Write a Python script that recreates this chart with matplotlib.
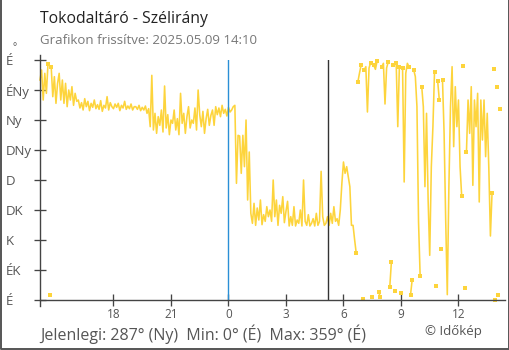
import numpy as np
import matplotlib.pyplot as plt

plt.rcParams['font.family'] = ['Open Sans', 'DejaVu Sans']

# wind direction in degrees, one reading every 5 minutes,
# from 14:10 of the previous day until 14:10 (hours relative to midnight)
start_hour = -9 - 50 / 60
end_hour = 14 + 10 / 60
step_min = 5
direction = [
    330, 345, 300, 340, 310, 354, 8, 350, 305, 335, 295, 325,     # 14:10
    340, 300, 330, 295, 325, 290, 315, 300, 320, 292, 310, 298,   # 15:10
    300, 288, 296, 285, 302, 290, 298, 284, 295, 289, 300, 287,   # 16:10
    293, 286, 299, 283, 292, 288, 305, 285, 296, 290, 287, 294,   # 17:10
    289, 295, 284, 292, 288, 298, 286, 291, 287, 294, 285, 290,   # 18:10
    290, 286, 292, 284, 289, 285, 291, 280, 287, 260, 337, 255,   # 19:10
    280, 250, 275, 262, 285, 252, 321, 258, 278, 248, 270, 265,   # 20:10
    285, 255, 272, 248, 310, 265, 280, 250, 275, 290, 258, 270,   # 21:10
    265, 288, 255, 315, 278, 260, 283, 250, 272, 286, 262, 277,   # 22:10
    285, 262, 290, 278, 288, 275, 292, 280, 286, 276, 289, 282,   # 23:10
    285, 290, 292, 175, 247, 246, 190, 247, 200, 270, 150, 222,   # 0:10
    130, 115, 145, 112, 138, 120, 150, 113, 128, 118, 140, 125,   # 1:10
    135, 118, 180, 125, 150, 112, 142, 130, 155, 116, 133, 148,   # 2:10
    111, 125, 112, 140, 111, 120, 115, 135, 111, 180, 118, 112,   # 3:10
    128, 111, 115, 122, 111, 130, 112, 118, 193, 125, 112, 115,   # 4:10
    125, 112, 130, 115, 140, 118, 122, 112, 135, 175, 207, 190,   # 5:10
    200, 185, 170, 112, 112, 90, 70, 327, 340, 352, 2, 345,       # 6:10
    350, 282, 348, 356, 4, 352, 346, 358, 12, 5, 350, 355,        # 7:10
    294, 348, 357, 20, 57, 352, 14, 356, 260, 350, 10, 348,       # 8:10
    177, 340, 355, 350, 8, 30, 345, 335, 290, 117, 36, 320,       # 9:10
    290, 170, 280, 150, 67, 200, 260, 342, 21, 328, 300, 76,      # 10:10
    330, 250, 120, 8, 170, 290, 350, 230, 320, 260, 300, 200,     # 11:10
    156, 351, 18, 222, 300, 250, 320, 172, 300, 260, 310, 147,    # 12:10
    300, 240, 300, 215, 280, 198, 96, 160, 346, 0, 320, 7,        # 13:10
    287,                                                          # 14:10
]
sunrise_hour = 5 + 13 / 60

tick_hours = [-6, -3, 0, 3, 6, 9, 12]
tick_labels = ['18', '21', '0', '3', '6', '9', '12']
dir_ticks = [0, 45, 90, 135, 180, 225, 270, 315, 360]
dir_labels = ['É', 'ÉK', 'K', 'DK', 'D', 'DNy', 'Ny', 'ÉNy', 'É']

yellow = '#fdd43c'
axis_col = '#444444'
W, H = 510, 350

fig = plt.figure(figsize=(W / 100, H / 100), dpi=100)
ax = fig.add_axes([40 / W, 50 / H, 460 / W, 240 / H])

d = np.array(direction, dtype=float)
t = start_hour + np.arange(len(d)) * step_min / 60
# break the line where the direction wraps around north
cuts = np.where(np.abs(np.diff(d)) > 180)[0] + 1
for seg_t, seg_d in zip(np.split(t, cuts), np.split(d, cuts)):
    ax.plot(seg_t, seg_d, color=yellow, lw=1.15, clip_on=False)
ends = np.unique(np.concatenate([cuts - 1, cuts]))
ax.plot(t[ends], d[ends], 's', color=yellow, ms=3.2, mew=0, clip_on=False)

ax.axvline(0, color='#2a8fd6', lw=1.0)
ax.axvline(sunrise_hour, color='#333333', lw=1.0)

ax.set_xlim(start_hour, end_hour)
ax.set_ylim(0, 360)
ax.set_xticks(tick_hours, tick_labels)
ax.set_yticks(dir_ticks, dir_labels)

for s in ax.spines.values():
    s.set_visible(False)
ax.plot([0, 0], [-0.027, 1.022], color=axis_col, lw=1.0, transform=ax.transAxes, clip_on=False)
ax.plot([0, 1.011], [0, 0], color=axis_col, lw=1.0, transform=ax.transAxes, clip_on=False)

ax.tick_params(axis='y', direction='inout', length=8.6, width=0.95, color=axis_col,
               labelsize=9.5, labelcolor='#555555', pad=20)
for lab in ax.get_yticklabels():
    lab.set_horizontalalignment('left')
ax.tick_params(axis='x', direction='inout', length=8, width=0.95, color=axis_col,
               labelsize=8.5, labelcolor='#555555', pad=1.5)
ax.xaxis.get_major_ticks()[2].tick1line.set_color('#2a8fd6')

fig.text(13 / W, 1 - 48 / H, '°', fontsize=7, color='#555555', va='center')
fig.text(40 / W, 1 - 19 / H, 'Tokodaltáró - Szélirány', fontsize=11.3, color='#222222', va='center')
fig.text(40 / W, 1 - 40 / H, 'Grafikon frissítve: 2025.05.09 14:10', fontsize=9.5,
         color='#777777', va='center')
fig.text(40 / W, 1 - 334 / H, 'Jelenlegi: 287° (Ny)  Min: 0° (É)  Max: 359° (É)',
         fontsize=11.5, color='#555555', va='center')
fig.text(482 / W, 1 - 332 / H, '© Időkép', fontsize=9.5, color='#555555', va='center', ha='right')

# outer frame (left, bottom, right)
fig.add_artist(plt.Line2D([0.8 / W, 0.8 / W, 1 - 1.2 / W, 1 - 1.2 / W],
                          [1, 1.5 / H, 1.5 / H, 1], color='#555555', lw=1.4))

fig.savefig('out.png', dpi=100)
